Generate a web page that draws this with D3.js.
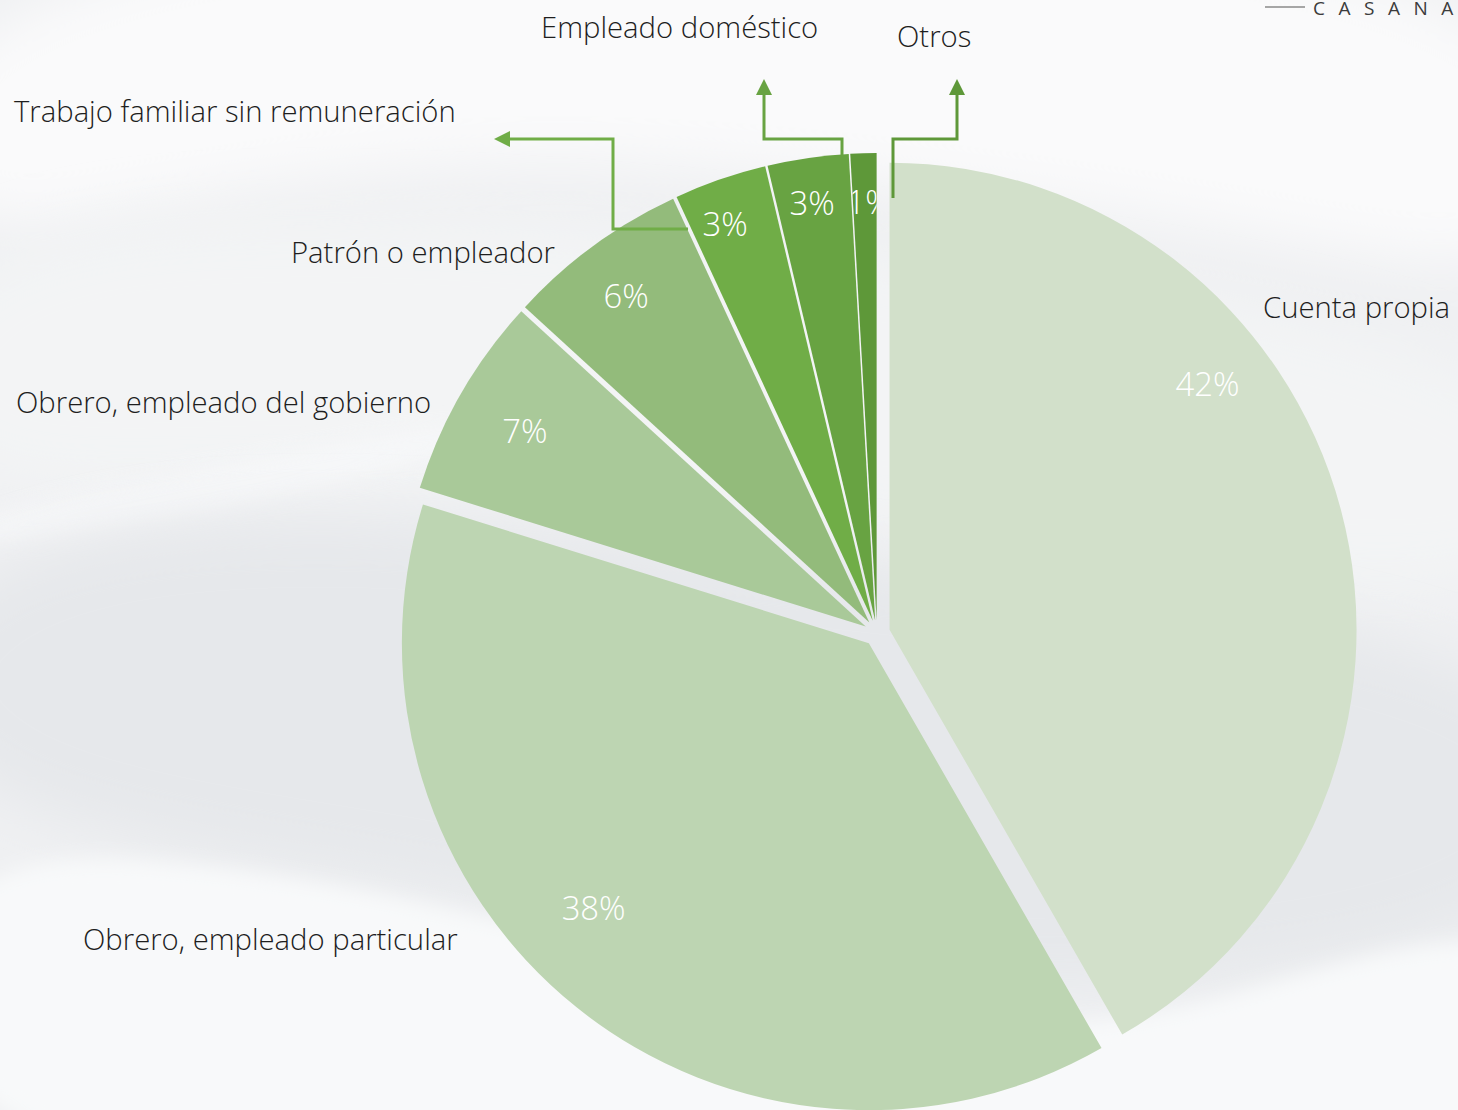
<!DOCTYPE html>
<html>
<head>
<meta charset="utf-8">
<script src="https://cdn.jsdelivr.net/npm/d3@7"></script>
<style>
  html, body { margin: 0; padding: 0; background: #f1f2f4; }
  svg { display: block; }
  text { font-family: "Open Sans", "Noto Sans", "DejaVu Sans", sans-serif; }
</style>
</head>
<body>
<svg id="chart" width="1458" height="1110"></svg>
<script>
// ---------------- DATA ----------------
const categories = [
  "Cuenta propia",
  "Obrero, empleado particular",
  "Obrero, empleado del gobierno",
  "Patrón o empleador",
  "Trabajo familiar sin remuneración",
  "Empleado doméstico",
  "Otros"
];
const shares = [41.7, 38.1, 7.0, 6.3, 3.2, 2.8, 0.9];
const percentLabels = ["42%", "38%", "7%", "6%", "3%", "3%", "1%"];
const sliceColors = ["#d2e0ca", "#bdd5b2", "#a9c999", "#93bb7b", "#70ad47", "#68a342", "#5e9839"];

// ---------------- LAYOUT ----------------
const W = 1458, H = 1110;
const cx = 877, cy = 633, R = 467, explode = 13;
// percent-label placement (radius from slice apex, angle shift in degrees from slice mid)
const pctPlace = [[401.5, -22.7], [382, 7.4], [393, 0], [407, -0.5], [423, -1.35], [422, -0.3], [418, 0.6]];
// category label placement (left x, baseline y)
const catPlace = [[1263, 318], [83, 950], [16, 413], [291, 263], [14, 122], [541, 38], [897, 47]];
// leader lines with arrowheads (only for the three narrow slices)
const leaders = [
  {i: 4, pts: [[688, 229], [613, 229], [613, 139], [508, 139]], dir: "left"},
  {i: 5, pts: [[842, 155], [842, 139], [764, 139], [764, 93]], dir: "up"},
  {i: 6, pts: [[893, 198], [893, 139], [957, 139], [957, 93]], dir: "up"}
];

const svg = d3.select("#chart");
const defs = svg.append("defs");

// ---------------- BACKGROUND ----------------
const blur = defs.append("filter").attr("id", "blur").attr("x", "-20%").attr("y", "-20%").attr("width", "140%").attr("height", "140%");
blur.append("feGaussianBlur").attr("stdDeviation", 28);
const blurS = defs.append("filter").attr("id", "blurS").attr("x", "-20%").attr("y", "-20%").attr("width", "140%").attr("height", "140%");
blurS.append("feGaussianBlur").attr("stdDeviation", 10);

const bg = svg.append("g");
bg.append("rect").attr("width", W).attr("height", H).attr("fill", "#eff0f2");
const line = d3.line().curve(d3.curveBasisClosed);
bg.append("path").attr("filter", "url(#blur)").attr("fill", "#fafafb")
  .attr("d", line([[-100, -100], [1600, -100], [1600, 300], [1300, 240], [900, 180], [500, 150], [150, 200], [-100, 260]]));
bg.append("path").attr("filter", "url(#blur)").attr("fill", "#f3f4f5")
  .attr("d", line([[-100, 240], [300, 200], [900, 250], [1600, 350], [1600, 650], [900, 520], [300, 470], [-100, 520]]));
bg.append("path").attr("filter", "url(#blurS)").attr("fill", "#f7f8f9").attr("opacity", 0.8)
  .attr("d", line([[-60, 520], [200, 470], [450, 420], [520, 430], [300, 500], [-60, 560]]));
bg.append("path").attr("filter", "url(#blur)").attr("fill", "#e6e8eb")
  .attr("d", line([[-100, 560], [300, 500], [800, 560], [1600, 640], [1600, 900], [1300, 980], [900, 1000], [450, 880], [-100, 820]]));
bg.append("path").attr("filter", "url(#blurS)").attr("fill", "#f8f9fa")
  .attr("d", line([[-100, 845], [200, 860], [450, 905], [800, 1000], [1100, 1040], [1300, 970], [1600, 900], [1600, 1250], [-100, 1250]]));

// ---------------- PIE ----------------
const pie = d3.pie().sort(null).value(d => d).startAngle(0).endAngle(2 * Math.PI);
const arcs = pie(shares);
const arc = d3.arc().innerRadius(0).outerRadius(R);
const offset = a => {
  const m = (a.startAngle + a.endAngle) / 2;
  return [Math.sin(m) * explode, -Math.cos(m) * explode];
};

const gPie = svg.append("g").attr("transform", `translate(${cx},${cy})`);
const slices = gPie.selectAll("g.slice").data(arcs).enter().append("g")
  .attr("class", "slice")
  .attr("transform", d => { const o = offset(d); return `translate(${o[0]},${o[1]})`; });
slices.append("path").attr("d", arc).attr("fill", (d, i) => sliceColors[i]);

// clip paths per slice (for labels)
arcs.forEach((a, i) => {
  const o = offset(a);
  defs.append("clipPath").attr("id", "clip" + i)
    .append("path").attr("d", arc(a)).attr("transform", `translate(${cx + o[0]},${cy + o[1]})`);
});

// ---------------- LEADER LINES ----------------
const gLead = svg.append("g");
leaders.forEach(l => {
  const col = sliceColors[l.i];
  gLead.append("path").attr("d", d3.line()(l.pts)).attr("fill", "none")
    .attr("stroke", col).attr("stroke-width", 3);
  const e = l.pts[l.pts.length - 1];
  let tri;
  if (l.dir === "left") tri = [[e[0] + 2, e[1] - 8], [e[0] - 14, e[1]], [e[0] + 2, e[1] + 8]];
  else tri = [[e[0] - 8, e[1] + 2], [e[0], e[1] - 14], [e[0] + 8, e[1] + 2]];
  gLead.append("path").attr("d", d3.line()(tri) + "Z").attr("fill", col);
});

// ---------------- PERCENT LABELS ----------------
const gPct = svg.append("g");
const probe = gPct.append("text").attr("font-size", 100).attr("font-weight", 300).text("42%");
const pctSize = 100 * 64 / probe.node().getComputedTextLength();
probe.remove();
arcs.forEach((a, i) => {
  const o = offset(a);
  const m = (a.startAngle + a.endAngle) / 2 + pctPlace[i][1] * Math.PI / 180;
  const r = pctPlace[i][0];
  const x = cx + o[0] + Math.sin(m) * r;
  const y = cy + o[1] - Math.cos(m) * r;
  const t = gPct.append("text").attr("x", x).attr("y", y).attr("dy", "0.36em")
    .attr("text-anchor", "middle").attr("font-size", pctSize).attr("font-weight", 300)
    .attr("fill", "#ffffff").text(percentLabels[i]);
  if (i === 6) t.attr("clip-path", "url(#clip6)");
});

// ---------------- CATEGORY LABELS ----------------
const gCat = svg.append("g");
const probe2 = gCat.append("text").attr("font-size", 100).attr("font-weight", 300).text(categories[4]);
const catSize = 100 * 442 / probe2.node().getComputedTextLength();
probe2.remove();
categories.forEach((c, i) => {
  gCat.append("text").attr("x", catPlace[i][0]).attr("y", catPlace[i][1])
    .attr("font-size", catSize).attr("font-weight", 300).attr("fill", "#1e1e1e").text(c);
});

// ---------------- LOGO ----------------
svg.append("line").attr("x1", 1265).attr("x2", 1305).attr("y1", 7).attr("y2", 7)
  .attr("stroke", "#8a8a8a").attr("stroke-width", 1.5);
svg.append("text").attr("x", 1313).attr("y", 15).attr("font-size", 19).attr("font-weight", 400)
  .attr("letter-spacing", 13.5).attr("fill", "#3c3c3c").text("CASANA");
</script>
</body>
</html>
